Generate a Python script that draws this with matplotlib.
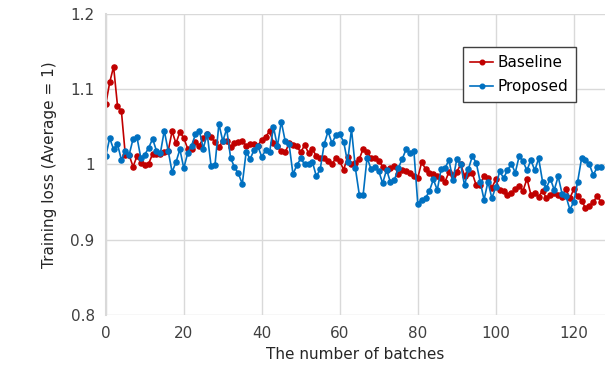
import numpy as np
import matplotlib.pyplot as plt

# values
baseline = [1.080, 1.109, 1.130, 1.078, 1.071, 1.013, 1.012, 0.997, 1.011, 1.002,
            0.999, 1.001, 1.014, 1.014, 1.014, 1.016, 1.018, 1.044, 1.028, 1.043,
            1.035, 1.021, 1.020, 1.030, 1.025, 1.035, 1.040, 1.036, 1.030, 1.023,
            1.031, 1.031, 1.023, 1.028, 1.030, 1.031, 1.025, 1.027, 1.027, 1.025,
            1.033, 1.037, 1.044, 1.029, 1.024, 1.018, 1.016, 1.028, 1.026, 1.024,
            1.016, 1.026, 1.015, 1.020, 1.011, 1.008, 1.008, 1.005, 1.000, 1.009,
            1.004, 0.993, 1.010, 1.000, 1.002, 1.007, 1.021, 1.016, 1.009, 1.009,
            1.005, 0.997, 0.993, 0.995, 0.998, 0.987, 0.993, 0.991, 0.988, 0.984,
            0.982, 1.003, 0.994, 0.989, 0.987, 0.984, 0.982, 0.977, 0.990, 0.986,
            0.990, 1.000, 0.985, 0.989, 0.988, 0.972, 0.972, 0.985, 0.982, 0.969,
            0.980, 0.966, 0.965, 0.960, 0.962, 0.967, 0.971, 0.965, 0.981, 0.960,
            0.962, 0.957, 0.965, 0.955, 0.960, 0.962, 0.960, 0.957, 0.967, 0.955,
            0.967, 0.958, 0.952, 0.942, 0.945, 0.950, 0.958, 0.950]

proposed = [1.011, 1.035, 1.020, 1.027, 1.006, 1.018, 1.013, 1.034, 1.036, 1.008,
            1.013, 1.022, 1.034, 1.018, 1.015, 1.045, 1.018, 0.990, 1.003, 1.020,
            0.995, 1.015, 1.025, 1.040, 1.045, 1.021, 1.041, 0.998, 0.999, 1.054,
            1.031, 1.047, 1.009, 0.996, 0.988, 0.974, 1.017, 1.007, 1.019, 1.024,
            1.010, 1.019, 1.016, 1.050, 1.024, 1.057, 1.031, 1.027, 0.987, 0.999,
            1.008, 1.000, 1.000, 1.003, 0.984, 0.994, 1.027, 1.044, 1.028, 1.039,
            1.040, 1.030, 1.003, 1.047, 0.995, 0.960, 0.960, 1.009, 0.994, 0.996,
            0.991, 0.975, 0.993, 0.976, 0.979, 0.995, 1.007, 1.020, 1.015, 1.018,
            0.948, 0.953, 0.955, 0.965, 0.980, 0.966, 0.994, 0.995, 1.006, 0.979,
            1.007, 1.000, 0.972, 0.994, 1.011, 1.002, 0.977, 0.953, 0.977, 0.955,
            0.970, 0.991, 0.982, 0.992, 1.001, 0.989, 1.011, 1.004, 0.992, 1.006,
            0.992, 1.008, 0.977, 0.969, 0.981, 0.966, 0.984, 0.961, 0.958, 0.940,
            0.950, 0.977, 1.008, 1.006, 1.000, 0.986, 0.996, 0.996]

batches = np.arange(len(baseline))
y_ticks = [0.8, 0.9, 1.0, 1.1, 1.2]
y_labels = ["0.8", "0.9", "1", "1.1", "1.2"]
x_ticks = [0, 20, 40, 60, 80, 100, 120]

fig = plt.figure(figsize=(6.08, 3.67), dpi=100)
ax = fig.add_axes([0.174, 0.142, 0.821, 0.820])

ax.plot(batches, baseline, color='#C00000', lw=1.2, marker='o', ms=3.7, label='Baseline')
ax.plot(batches, proposed, color='#0070C0', lw=1.2, marker='o', ms=3.7, label='Proposed')

ax.set_xlim(0, 128)
ax.set_ylim(0.8, 1.2)
ax.set_xticks(x_ticks)
ax.set_yticks(y_ticks)
ax.set_yticklabels(y_labels)
ax.tick_params(length=0, labelsize=11, colors='#404040', pad=8)
ax.grid(True, color='#D9D9D9', lw=1)
ax.set_axisbelow(True)
for s in ['top', 'right', 'bottom']:
    ax.spines[s].set_visible(False)
ax.spines['left'].set_color('#D9D9D9')
ax.spines['left'].set_linewidth(1.5)

ax.set_xlabel('The number of batches', fontsize=11, color='#262626', labelpad=4)
ax.set_ylabel('Training loss (Average = 1)', fontsize=11, color='#262626', labelpad=10)

leg = ax.legend(loc='upper right', bbox_to_anchor=(0.958, 0.914), fontsize=11,
                fancybox=False, framealpha=1, edgecolor='#404040',
                handlelength=1.5, handletextpad=0.3, markerscale=0.9,
                borderpad=0.5, labelspacing=0.6)
leg.get_frame().set_linewidth(1)

fig.savefig('out.png', dpi=100)
